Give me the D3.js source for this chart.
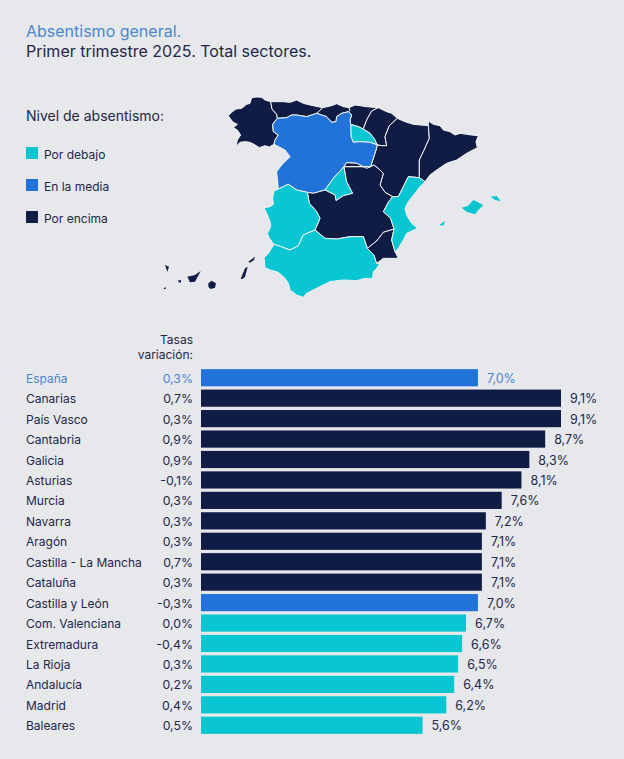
<!DOCTYPE html>
<html><head><meta charset="utf-8">
<script src="https://cdn.jsdelivr.net/npm/d3@7"></script>
<style>html,body{margin:0;background:#e6e8ec}svg{display:block}text{font-family:Inter,"Noto Sans",sans-serif}</style>
</head><body><svg id="c" width="624" height="759"></svg>
<script>
const regions=["España","Canarias","País Vasco","Cantabria","Galicia","Asturias","Murcia","Navarra","Aragón","Castilla - La Mancha","Cataluña","Castilla y León","Com. Valenciana","Extremadura","La Rioja","Andalucía","Madrid","Baleares"];
const rates=[7.0,9.1,9.1,8.7,8.3,8.1,7.6,7.2,7.1,7.1,7.1,7.0,6.7,6.6,6.5,6.4,6.2,5.6];
const variations=["0,3%","0,7%","0,3%","0,9%","0,9%","-0,1%","0,3%","0,3%","0,3%","0,7%","0,3%","-0,3%","0,0%","-0,4%","0,3%","0,2%","0,4%","0,5%"];
const levelNames=["Por debajo","En la media","Por encima"];
const levelColors=["#08c6d2","#2273d9","#111c44"];
const barLevels=[1,2,2,2,2,2,2,2,2,2,2,1,0,0,0,0,0,0];
const mapLevels={Galicia:2,Asturias:2,Cantabria:2,"País Vasco":2,Navarra:2,Aragón:2,Cataluña:2,"Castilla y León":1,"La Rioja":0,Madrid:0,"Castilla - La Mancha":2,Extremadura:0,Andalucía:0,Murcia:2,"Com. Valenciana":0,Baleares:0,Canarias:2};
// Shared border lines, in the map's own units
const arcs={
galCoast:[[372,178],[358,186],[345,182],[328,188],[312,178],[300,172],[285,170],[270,172],[258,185],[262,165],[272,150],[262,135],[250,128],[262,118],[250,112],[240,100],[235,92],[245,82],[258,72],[275,70],[290,58],[300,55],[305,38],[320,36],[335,37],[345,45],[362,50]],
galAst:[[362,50],[366,72],[380,88],[382,100]],
galCyl:[[382,100],[368,118],[370,140],[385,150],[375,165],[372,178]],
astCoast:[[362,50],[400,50],[420,52],[440,45],[460,55],[480,60],[518,68]],
astCyl:[[382,100],[410,98],[425,90],[440,90],[470,95],[500,85]],
astCan:[[518,68],[508,78],[500,85]],
canCoast:[[518,68],[545,62],[560,56],[580,65],[597,68]],
canCyl:[[500,85],[530,95],[545,112],[558,110],[560,95],[575,85],[595,80]],
canPv:[[597,68],[600,76],[595,80]],
pvCoast:[[597,68],[615,60],[650,65],[685,68]],
pvCyl:[[595,80],[605,90],[600,105],[602,118]],
pvRio:[[602,118],[625,125],[640,132]],
pvNav:[[685,68],[665,78],[650,105],[640,132]],
navCoast:[[685,68],[710,80],[725,85],[742,100]],
navArg:[[742,100],[718,122],[705,155],[710,182],[695,182],[682,180]],
navRio:[[640,132],[660,145],[672,160],[682,180]],
rioCyl:[[602,118],[603,155],[610,172],[630,170],[660,172],[682,180]],
argCyl:[[682,180],[678,195],[665,235],[662,245]],
cylClm:[[662,245],[650,250],[620,235],[590,233],[582,245]],
cylMad:[[582,245],[550,280],[525,315]],
cylClm2:[[525,315],[490,325],[472,322]],
cylExt:[[472,322],[440,315],[415,298],[385,312]],
cylPor:[[385,312],[380,260],[395,240],[420,215],[405,195],[372,178]],
madClm:[[582,245],[590,290],[608,325],[580,332],[558,347],[555,330],[525,315]],
argClm:[[662,245],[672,240],[690,255],[700,265],[690,300],[705,322],[728,335]],
argVal:[[728,335],[745,335],[765,295],[775,275],[808,278]],
argTop:[[742,100],[765,110],[790,118],[835,122]],
argCat:[[835,122],[838,160],[820,200],[808,225],[808,278]],
catOut:[[835,122],[835,108],[850,118],[870,122],[880,135],[900,140],[915,150],[930,145],[950,148],[965,150],[985,152],[978,170],[982,188],[950,205],[920,225],[890,235],[860,255],[840,270],[825,290],[808,278]],
valCoast:[[808,278],[825,290],[810,305],[795,325],[775,350],[765,370],[770,390],[785,415],[803,430],[785,438],[770,445],[760,465],[745,490],[735,500]],
valMur:[[735,500],[725,465],[732,432]],
valClm:[[732,432],[722,400],[700,380],[715,352],[728,335]],
murCoast:[[735,500],[745,520],[700,520],[680,535]],
murAnd:[[680,535],[672,510],[652,490]],
murClm:[[652,490],[680,468],[700,442],[732,432]],
andClm:[[652,490],[640,455],[600,455],[560,462],[525,460],[495,435]],
extClm:[[495,435],[510,400],[500,380],[478,355],[472,322]],
extAnd:[[495,435],[460,450],[445,482],[420,495],[385,482],[372,478]],
extPor:[[372,478],[358,460],[352,445],[362,425],[360,410],[350,385],[342,368],[360,365],[370,358],[368,338],[372,318],[385,312]],
andOut:[[680,535],[690,535],[680,550],[670,560],[668,582],[645,580],[620,587],[580,585],[540,590],[520,600],[490,615],[470,625],[460,637],[440,630],[420,615],[415,595],[405,580],[385,562],[360,555],[345,548],[342,518],[355,505],[372,478]]
};
// "-" in front of a name means the line is walked backwards
const regionArcs={
Galicia:["galCoast","galAst","galCyl"],
Asturias:["astCoast","astCan","-astCyl","-galAst"],
Cantabria:["canCoast","canPv","-canCyl","-astCan"],
"País Vasco":["pvCoast","pvNav","-pvRio","-pvCyl","-canPv"],
Navarra:["navCoast","navArg","-navRio","-pvNav"],
"La Rioja":["pvRio","navRio","-rioCyl"],
Aragón:["argTop","argCat","-argVal","-argClm","-argCyl","-navArg"],
Cataluña:["catOut","-argCat"],
"Castilla y León":["astCyl","canCyl","pvCyl","rioCyl","argCyl","cylClm","cylMad","cylClm2","cylExt","cylPor","-galCyl"],
Madrid:["cylMad","-madClm"],
"Castilla - La Mancha":["-cylClm","madClm","cylClm2","-extClm","-andClm","murClm","valClm","-argClm"],
Extremadura:["-cylExt","-extClm","extAnd","extPor"],
Andalucía:["murAnd","andClm","extAnd","-andOut"],
Murcia:["murCoast","murAnd","murClm","-valMur"],
"Com. Valenciana":["valCoast","valMur","valClm","argVal"]
};
const islands={
Baleares:[[[935,368],[955,362],[970,345],[1000,360],[985,375],[975,388],[950,380]],[[1022,335],[1040,333],[1052,348],[1035,345]],[[868,420],[885,408],[880,422]]],
Canarias:[[[40,612],[47,605],[47,612]],[[45,540],[57,545],[52,560]],[[84,586],[94,586],[92,593],[86,592]],[[112,575],[135,570],[152,558],[135,590],[120,592]],[[175,595],[185,587],[198,595],[195,608],[182,612],[175,605]],[[272,582],[285,550],[293,545],[285,575],[278,582]],[[295,530],[315,515],[312,525],[300,533]]]
};
const titleLines=["Absentismo general.","Primer trimestre 2025. Total sectores."];
const legendTitle="Nivel de absentismo:";
const variationHeader=["Tasas","variación:"];

const svg=d3.select("#c");
const dark="#22274a",blueText="#4a86cf";
svg.selectAll("text.t").data(titleLines).join("text").attr("x",26).attr("y",(d,i)=>36.5+i*20.5)
 .attr("font-size",16).attr("fill",(d,i)=>i?dark:blueText).text(d=>d);
svg.append("text").attr("x",26).attr("y",121).attr("font-size",14).attr("fill",dark).text(legendTitle);
const legY=d3.scalePoint().domain(levelNames).range([154,218]);
levelNames.forEach((n,i)=>{
 svg.append("rect").attr("x",26).attr("y",legY(n)-7).attr("width",12).attr("height",12).attr("fill",levelColors[i]);
 svg.append("text").attr("x",44).attr("y",legY(n)+5).attr("font-size",12).attr("fill",dark).text(n);
});
// map
function ring(names){
 const out=[];
 names.forEach(n=>{
  const back=n[0]==="-";
  const a=arcs[back?n.slice(1):n];
  (back?a.slice().reverse():a).forEach(p=>out.push(p));
 });
 out.push(out[0]);
 return out;
}
const mx=d3.scaleLinear().domain([0,1080]).range([150,510]);
const my=d3.scaleLinear().domain([0,675]).range([85,310]);
const path=d3.geoPath(d3.geoTransform({point(x,y){this.stream.point(mx(x),my(y));}}));
const features=[
 ...Object.keys(regionArcs).map(k=>({name:k,rings:[ring(regionArcs[k])]})),
 ...Object.keys(islands).map(k=>({name:k,rings:islands[k].map(r=>[...r,r[0]])}))
];
svg.append("g").selectAll("path").data(features).join("path")
 .attr("d",f=>path({type:"MultiPolygon",coordinates:f.rings.map(r=>[r])}))
 .attr("fill",f=>levelColors[mapLevels[f.name]])
 .attr("stroke",f=>islands[f.name]?"none":"#f2f4f6").attr("stroke-width",1).attr("stroke-linejoin","round");
// bars
const x=d3.scaleLinear().domain([0,9.1]).range([201,561]);
const y=d3.scaleBand().domain(regions).range([367.5,735.5]).paddingInner(0.16).paddingOuter(0.08);
const row=svg.append("g").selectAll("g").data(regions).join("g");
row.append("rect").attr("x",x(0)).attr("y",d=>y(d)).attr("height",y.bandwidth())
 .attr("width",(d,i)=>x(rates[i])-x(0)).attr("fill",(d,i)=>levelColors[barLevels[i]]);
const base=d=>y(d)+y.bandwidth()/2+5;
const col=(d,i)=>i?dark:blueText;
row.append("text").attr("x",26).attr("y",base).attr("font-size",12).attr("fill",col).text(d=>d);
row.append("text").attr("x",193).attr("y",base).attr("text-anchor","end").attr("font-size",12.3).attr("fill",col).text((d,i)=>variations[i]);
row.append("text").attr("x",(d,i)=>x(rates[i])+9).attr("y",base).attr("font-size",12.5).attr("fill",col)
 .text((d,i)=>rates[i].toFixed(1).replace(".",",")+"%");
svg.selectAll("text.h").data(variationHeader).join("text").attr("x",193).attr("y",(d,i)=>344+i*15)
 .attr("text-anchor","end").attr("font-size",12).attr("fill",dark).text(d=>d);
</script></body></html>
